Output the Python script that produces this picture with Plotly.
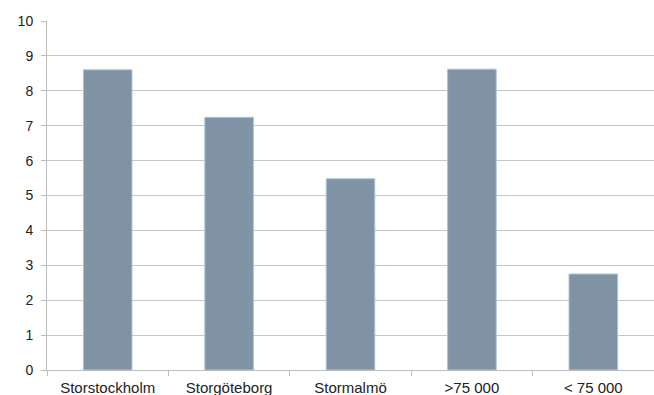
import plotly.graph_objects as go

categories = ["Storstockholm", "Storgöteborg", "Stormalmö", ">75 000", "< 75 000"]
values = [8.6, 7.24, 5.48, 8.62, 2.75]
y_ticks = list(range(0, 11))

fig = go.Figure(go.Bar(
    x=categories, y=values,
    marker=dict(color="#7F93A5", line=dict(color="#A9C3DB", width=1)),
))

fig.update_layout(
    width=654, height=395,
    margin=dict(l=47, r=0, t=21, b=25),
    paper_bgcolor="white", plot_bgcolor="white",
    font=dict(family="Liberation Sans, Arial, sans-serif", size=14, color="#222222"),
    bargap=0.6,
    showlegend=False,
)
fig.update_xaxes(
    showline=True, linecolor="#BEBEBE", linewidth=1,
    ticks="outside", tickson="boundaries", ticklen=5, tickcolor="#BEBEBE",
    showgrid=False, tickfont=dict(size=15), ticklabelstandoff=4,
)
fig.update_yaxes(
    range=[0, 10], tickvals=y_ticks,
    showline=True, linecolor="#BEBEBE", linewidth=1,
    ticks="outside", ticklen=5, tickcolor="#BEBEBE",
    showgrid=True, gridcolor="#C6C6C6", gridwidth=1,
    zeroline=False, tickfont=dict(size=14), ticklabelstandoff=5,
)

fig.write_html("out.html")
